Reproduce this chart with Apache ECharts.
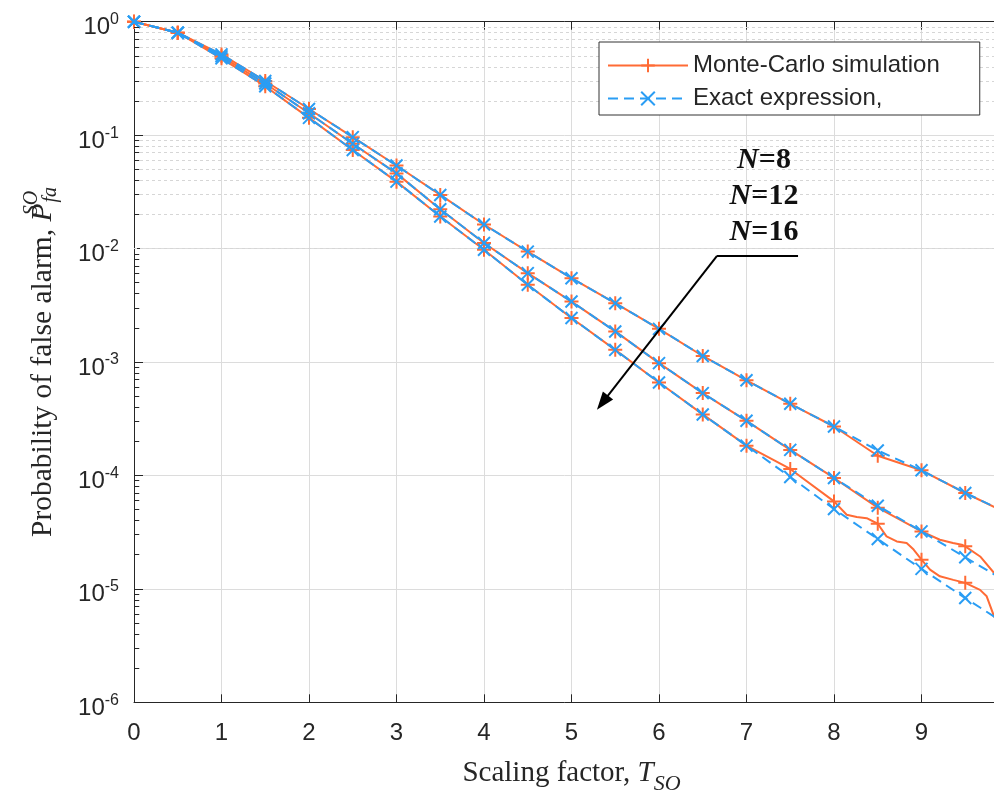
<!DOCTYPE html>
<html>
<head>
<meta charset="utf-8">
<script src="https://cdn.jsdelivr.net/npm/echarts@6/dist/echarts.min.js"></script>
<style>html,body{margin:0;padding:0;background:#fff}#c{width:994px;height:799px}</style>
</head>
<body>
<div id="c"></div>
<script>
// ---------- data ----------
const exactX = [0,0.5,1,1.5,2,2.5,3,3.5,4,4.5,5,5.5,6,6.5,7,7.5,8,8.5,9,9.5,10];
const exactN8  = [1,0.80,0.515,0.30,0.170,0.096,0.0540,0.0297,0.0163,0.0094,0.00548,0.00330,0.00196,0.00113,0.00069,0.000428,0.000270,0.000166,0.000111,0.0000700,0.0000460];
const exactN12 = [1,0.80,0.495,0.285,0.156,0.084,0.0460,0.0222,0.0112,0.00607,0.00341,0.00186,0.000977,0.000532,0.000303,0.000168,0.0000950,0.0000541,0.0000321,0.0000190,0.0000112];
const exactN16 = [1,0.80,0.475,0.270,0.142,0.074,0.0389,0.0192,0.00975,0.00479,0.00244,0.00128,0.000660,0.000345,0.000183,0.0000970,0.0000506,0.0000275,0.0000150,0.0000083,0.0000047];

const mcX8  = [0,0.5,1,1.5,2,2.5,3,3.5,4,4.5,5,5.5,6,6.5,7,7.5,8,8.5,9,9.5,10];
const mcN8  = [1,0.80,0.515,0.30,0.170,0.096,0.0540,0.0297,0.0163,0.0094,0.00548,0.00330,0.00196,0.00113,0.00069,0.000428,0.000270,0.000149,0.000111,0.0000700,0.0000455];
const mcX12 = [0,0.5,1,1.5,2,2.5,3,3.5,4,4.5,5,5.5,6,6.5,7,7.5,8,8.5,9,9.21,9.36,9.46,9.5,9.67,9.83,10];
const mcN12 = [1,0.80,0.495,0.285,0.156,0.084,0.0460,0.0222,0.0112,0.00607,0.00341,0.00186,0.000977,0.000532,0.000303,0.000168,0.0000950,0.0000520,0.0000321,0.0000271,0.0000254,0.0000245,0.0000237,0.0000193,0.0000138,0.0000100];
const mcX16 = [0,0.5,1,1.5,2,2.5,3,3.5,4,4.5,5,5.5,6,6.5,7,7.5,8,8.145,8.26,8.374,8.5,8.6,8.717,8.83,8.91,9,9.097,9.21,9.363,9.5,9.669,9.745,9.83,10];
const mcN16 = [1,0.80,0.475,0.270,0.142,0.074,0.0389,0.0192,0.00975,0.00479,0.00244,0.00128,0.000660,0.000345,0.000183,0.000114,0.0000590,0.0000450,0.0000430,0.0000420,0.0000375,0.0000290,0.0000262,0.0000254,0.0000222,0.0000181,0.0000148,0.0000129,0.0000120,0.0000113,0.0000098,0.0000086,0.0000057,0.0000035];

const seriesNames = ['Monte-Carlo simulation', 'Exact expression,'];
const curveLabels = ['8', '12', '16'];
const arrowPoints = [[7.589, 0.00863], [6.663, 0.00863], [5.354, 0.000438]];

// ---------- styling ----------
const ORANGE = '#FF6B35';
const BLUE = '#2A9DF4';
const TXT = '#262626';
const SANS = '"Liberation Sans", Arial, Helvetica, sans-serif';
const SERIF = '"Liberation Serif", "Times New Roman", Times, serif';
const PLUS = 'path://M5,0 L5,10 M0,5 L10,5';
const CROSS = 'path://M0,0 L10,10 M10,0 L0,10';

function pairs(xs, ys) {
  return xs.map((x, i) => {
    const onMarker = Math.abs(x * 2 - Math.round(x * 2)) < 1e-9;
    return onMarker ? { value: [x, ys[i]] } : { value: [x, ys[i]], symbol: 'none' };
  });
}

function mcSeries(xs, ys) {
  return {
    name: seriesNames[0], type: 'line', data: pairs(xs, ys),
    symbol: PLUS, symbolSize: 14, showAllSymbol: true, z: 3,
    lineStyle: { color: ORANGE, width: 2 },
    itemStyle: { color: ORANGE, borderColor: ORANGE, borderWidth: 2 },
    emphasis: { disabled: true }, animation: false
  };
}
function exSeries(xs, ys) {
  return {
    name: seriesNames[1], type: 'line', data: pairs(xs, ys),
    symbol: CROSS, symbolSize: 12, showAllSymbol: true, z: 4,
    lineStyle: { color: BLUE, width: 2, type: [10, 6] },
    itemStyle: { color: BLUE, borderColor: BLUE, borderWidth: 2 },
    emphasis: { disabled: true }, animation: false
  };
}

// minor grid lines & minor ticks on the log axis (2..9 x 10^k)
const minorVals = [];
for (let k = -6; k < 0; k++) for (let m = 2; m <= 9; m++) minorVals.push(m * Math.pow(10, k));

const chart = echarts.init(document.getElementById('c'), null, { renderer: 'canvas' });
chart.setOption({
  animation: false,
  backgroundColor: '#fff',
  grid: { left: 134, right: -15, top: 21.7, bottom: 96.7, outerBoundsMode: 'none', containLabel: false },
  legend: {
    data: seriesNames, left: 599, top: 42, orient: 'vertical',
    itemWidth: 80, itemHeight: 17, itemGap: 8,
    padding: [11, 40, 4, 8],
    backgroundColor: '#fff', borderColor: '#333', borderWidth: 1,
    selectedMode: false,
    textStyle: { fontFamily: SANS, fontSize: 24, color: TXT, lineHeight: 25 }
  },
  xAxis: [{
    type: 'value', min: 0, max: 10, interval: 1, position: 'bottom',
    name: 'Scaling factor, {i|T}{sub|SO}', nameLocation: 'middle', nameGap: 49,
    nameTextStyle: {
      fontFamily: SERIF, fontSize: 29, color: TXT,
      rich: {
        i: { fontFamily: SERIF, fontSize: 29, fontStyle: 'italic', color: TXT },
        sub: { fontFamily: SERIF, fontSize: 22, fontStyle: 'italic', color: TXT, padding: [22, 0, 0, 0] }
      }
    },
    axisLine: { show: true, lineStyle: { color: TXT, width: 1 } },
    axisTick: { show: true, inside: true, length: 8, lineStyle: { color: TXT } },
    axisLabel: { fontFamily: SANS, fontSize: 24, color: TXT, margin: 19,
      formatter: v => (Math.abs(v - Math.round(v)) < 1e-9 && v < 10) ? String(v) : '' },
    splitLine: { show: true, lineStyle: { color: '#dcdcdc', width: 1 } }
  }, {
    type: 'value', min: 0, max: 10, interval: 1, position: 'top',
    axisLine: { show: true, onZero: false, lineStyle: { color: TXT, width: 1 } },
    axisTick: { show: true, inside: true, length: 8, lineStyle: { color: TXT } },
    axisLabel: { show: false }, splitLine: { show: false }
  }],
  yAxis: {
    type: 'log', logBase: 10, min: 1e-6, max: 1, splitNumber: 6,
    name: 'Probability of false alarm, {i|P}{sup|SO}{sub|fa}',
    nameLocation: 'middle', nameGap: 70, nameRotate: 90,
    nameTextStyle: {
      fontFamily: SERIF, fontSize: 29.5, color: TXT,
      rich: {
        i: { fontFamily: SERIF, fontSize: 29.5, fontStyle: 'italic', color: TXT },
        sup: { fontFamily: SERIF, fontSize: 20, fontStyle: 'italic', color: TXT, padding: [0, 0, 22, 0], width: 1 },
        sub: { fontFamily: SERIF, fontSize: 20, fontStyle: 'italic', color: TXT, padding: [16, 0, 0, 0] }
      }
    },
    axisLine: { show: true, lineStyle: { color: TXT, width: 1 } },
    axisTick: { show: true, inside: true, length: 9, lineStyle: { color: TXT } },
    axisLabel: {
      margin: 15, color: TXT,
      formatter: v => '{b|10}{s|' + Math.round(Math.log10(v)) + '}',
      rich: {
        b: { fontFamily: SANS, fontSize: 24, color: TXT, padding: [12, 0, 0, 0] },
        s: { fontFamily: SANS, fontSize: 16, color: TXT, padding: [0, 0, 4, 0] }
      }
    },
    splitLine: { show: true, lineStyle: { color: '#dcdcdc', width: 1 } }
  },
  graphic: curveLabels.map((lab, i) => ({
    type: 'text', x: 764, y: 160 + i * 36, z: 100,
    style: {
      text: '{n|N}{b|=' + lab + '}', align: 'center', verticalAlign: 'middle',
      rich: {
        n: { fontFamily: SERIF, fontSize: 30, fontWeight: 'bold', fontStyle: 'italic', fill: '#111' },
        b: { fontFamily: SERIF, fontSize: 30, fontWeight: 'bold', fill: '#111' }
      }
    }
  })),
  series: [
    {
      type: 'line', data: [], silent: true, z: 1,
      markLine: {
        silent: true, symbol: ['none', 'none'], animation: false, z: 1,
        label: { show: false },
        lineStyle: { color: '#d6d6d6', width: 1, type: [3, 3] },
        emphasis: { disabled: true },
        data: minorVals.map(v => ({ yAxis: v }))
      }
    },
    {
      type: 'line', data: [], silent: true, z: 2,
      markLine: {
        silent: true, symbol: ['none', 'none'], animation: false,
        label: { show: false },
        lineStyle: { color: TXT, width: 1, type: 'solid' },
        emphasis: { disabled: true },
        data: minorVals.map(v => [{ coord: [0, v] }, { coord: [0.06, v] }])
      }
    },
    mcSeries(mcX8, mcN8), mcSeries(mcX12, mcN12), mcSeries(mcX16, mcN16),
    exSeries(exactX, exactN8), exSeries(exactX, exactN12), exSeries(exactX, exactN16),
    {
      type: 'line', data: [], silent: true, z: 10,
      markLine: {
        silent: true, animation: false, label: { show: false },
        lineStyle: { color: '#000', width: 2, type: 'solid' },
        emphasis: { disabled: true },
        data: [
          [{ coord: arrowPoints[0], symbol: 'none' }, { coord: arrowPoints[1], symbol: 'none' }],
          [{ coord: arrowPoints[1], symbol: 'none' }, { coord: arrowPoints[2], symbol: 'triangle', symbolSize: [13, 18] }]
        ]
      }
    }
  ]
});
</script>
</body>
</html>
